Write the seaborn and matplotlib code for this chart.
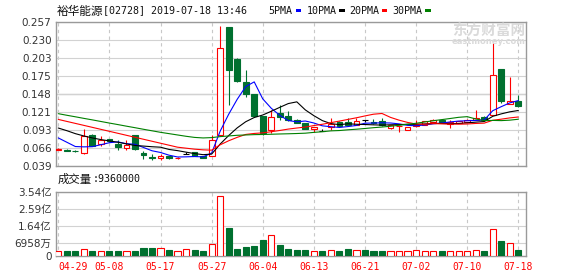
import matplotlib
matplotlib.use("Agg")
import matplotlib.pyplot as plt
from matplotlib.patches import Rectangle
import numpy as np
import pandas as pd
import seaborn as sns

# ---------------- data ----------------
dates = ['04-29', '04-30', '05-02', '05-03', '05-06', '05-07', '05-08', '05-09', '05-10', '05-14',
         '05-15', '05-16', '05-17', '05-20', '05-21', '05-22', '05-23', '05-24', '05-27', '05-28',
         '05-29', '05-30', '05-31', '06-03', '06-04', '06-05', '06-06', '06-10', '06-11', '06-12',
         '06-13', '06-14', '06-17', '06-18', '06-19', '06-20', '06-21', '06-24', '06-25', '06-26',
         '06-27', '06-28', '07-02', '07-03', '07-04', '07-05', '07-08', '07-09', '07-10', '07-11',
         '07-12', '07-15', '07-16', '07-17', '07-18']

opens = [.0632, .0635, .0615, .0580, .0861, .0725, .0790, .0725, .0658, .0851,
         .0585, .0520, .0510, .0530, .0500, .0560, .0595, .0530, .0534, .0861,
         .2484, .2002, .1660, .1480, .1137, .0936, .1188, .1148, .1080, .1037,
         .0946, .0915, .0970, .1047, .1047, .1012, .1087, .1050, .1062, .0962,
         .0985, .0937, .0995, .1012, .1047, .1075, .1022, .1037, .1057, .1087,
         .1125, .1162, .1851, .1328, .1370]
highs = [.0655, .0645, .0635, .0951, .0865, .0846, .0795, .0775, .0786, .0860,
         .0609, .0560, .0560, .0540, .0515, .0590, .0600, .0540, .0860, .2504,
         .2484, .2017, .1840, .1480, .1140, .1238, .1310, .1210, .1090, .1040,
         .0980, .0940, .1113, .1060, .1117, .1113, .1087, .1090, .1113, .1010,
         .0995, .0975, .1087, .1070, .1095, .1080, .1080, .1070, .1090, .1238,
         .1137, .2243, .1860, .1730, .1460]
lows = [.0620, .0610, .0590, .0570, .0690, .0695, .0750, .0625, .0620, .0620,
        .0495, .0480, .0470, .0490, .0495, .0560, .0530, .0500, .0530, .0850,
        .1313, .1650, .1430, .1120, .0860, .0887, .1087, .1070, .1030, .0940,
        .0900, .0915, .0937, .0970, .0986, .1005, .1052, .1020, .0990, .0950,
        .0896, .0930, .0975, .1000, .1040, .1050, .0962, .1030, .1050, .1085,
        .1077, .1150, .1340, .1320, .1280]
closes = [.0638, .0610, .0610, .0841, .0695, .0786, .0760, .0670, .0706, .0646,
          .0549, .0510, .0540, .0500, .0512, .0560, .0535, .0510, .0786, .2168,
          .1840, .1664, .1479, .1137, .0887, .1128, .1128, .1087, .1040, .0946,
          .0977, .0915, .1020, .0986, .1012, .1062, .1087, .1030, .1002, .1001,
          .0995, .0971, .1000, .1062, .1087, .1055, .1057, .1062, .1087, .1113,
          .1085, .1765, .1363, .1373, .1288]

# volume in 亿股
volumes = [.28, .28, .28, .37, .28, .26, .28, .28, .26, .28,
           .44, .44, .42, .33, .26, .37, .33, .30, .65, 3.32,
           1.55, .39, .50, .55, .89, 1.14, .61, .39, .35, .33,
           .28, .28, .33, .28, .39, .33, .33, .28, .28, .26,
           .26, .26, .31, .26, .26, .28, .26, .26, .26, .31,
           .28, 1.47, .83, .70, .33]
vol_up = [1, 0, 0, 1, 0, 1, 0, 0, 1, 0,
          0, 0, 1, 0, 1, 1, 0, 0, 1, 1,
          0, 0, 0, 0, 0, 1, 0, 0, 0, 0,
          1, 0, 1, 0, 0, 1, 0, 0, 0, 1,
          1, 1, 1, 1, 1, 0, 1, 1, 1, 1,
          0, 1, 0, 1, 0]

ma5 = [.0810, .0745, .0680, .0675, .0678, .0708, .0738, .0750, .0723, .0714,
       .0666, .0616, .0590, .0549, .0522, .0524, .0529, .0523, .0581, .0912,
       .1168, .1394, .1587, .1658, .1401, .1259, .1152, .1073, .1054, .1066,
       .1036, .0993, .0980, .0969, .0982, .0999, .1033, .1035, .1039, .1036,
       .1023, .1000, .0994, .1006, .1023, .1035, .1052, .1065, .1070, .1075,
       .1081, .1222, .1283, .1340, .1375]
ma10 = [.0960, .0920, .0875, .0840, .0810, .0785, .0765, .0745, .0720, .0696,
        .0687, .0677, .0670, .0636, .0618, .0595, .0573, .0557, .0565, .0717,
        .0846, .0962, .1055, .1119, .1157, .1213, .1273, .1330, .1356, .1234,
        .1147, .1072, .1027, .1011, .1024, .1017, .1013, .1008, .1004, .1009,
        .1011, .1017, .1015, .1022, .1030, .1029, .1026, .1029, .1038, .1049,
        .1058, .1137, .1174, .1205, .1225]
ma20 = [.1090, .1060, .1030, .1000, .0970, .0940, .0910, .0880, .0850, .0820,
        .0790, .0760, .0730, .0700, .0670, .0655, .0640, .0630, .0625, .0706,
        .0767, .0819, .0863, .0878, .0887, .0904, .0923, .0944, .0960, .0975,
        .0997, .1017, .1041, .1065, .1090, .1115, .1143, .1169, .1180, .1121,
        .1079, .1045, .1021, .1017, .1027, .1023, .1020, .1018, .1021, .1029,
        .1034, .1077, .1094, .1113, .1127]
ma30 = [.1177, .1153, .1130, .1106, .1083, .1059, .1035, .1012, .0988, .0965,
        .0941, .0918, .0895, .0875, .0855, .0835, .0818, .0810, .0815, .0830,
        .0840, .0850, .0855, .0860, .0862, .0866, .0870, .0873, .0877, .0882,
        .0894, .0904, .0917, .0922, .0933, .0942, .0953, .0965, .0975, .0987,
        .1001, .1017, .1032, .1051, .1070, .1087, .1104, .1122, .1132, .1097,
        .1072, .1075, .1072, .1079, .1093]

price_tick_labels = ['0.039', '0.066', '0.093', '0.121', '0.148', '0.175', '0.203', '0.230', '0.257']
vol_ticks = [0, 0.6958, 1.64, 2.59, 3.54]
vol_tick_labels = ['0', '6958万', '1.64亿', '2.59亿', '3.54亿']
label_dates = ['04-29', '05-08', '05-17', '05-27', '06-04', '06-13', '06-21', '07-02', '07-10', '07-18']

title_name = '裕华能源'
title_info = '[02728] 2019-07-18 13:46'
legend_names = ['5PMA', '10PMA', '20PMA', '30PMA']
vol_title = '成交量'
vol_value = ':9360000'

# ---------------- style ----------------
sns.set_theme(style='white')
plt.rcParams['font.family'] = ['DejaVu Sans', 'Noto Sans CJK SC']

RED = '#ff0000'
GREEN = '#00702f'
MA_COLORS = ['#0000ff', '#000000', '#ff0000', '#008000']
GRID = '#d2d2d2'
FRAME = '#9a9a9a'
MONO = ['DejaVu Sans Mono', 'Noto Sans CJK SC']
CJK = ['Noto Sans CJK SC', 'DejaVu Sans']

W, H = 578, 276
fig = plt.figure(figsize=(W / 100, H / 100), dpi=100)
fig.patch.set_facecolor('white')


def fx(px):
    return px / W


def fy(py):
    return 1 - py / H


L, R = 56, 525.7
ax = fig.add_axes([fx(L), fy(165.7), fx(R) - fx(L), fy(21.6) - fy(165.7)])
axv = fig.add_axes([fx(L), fy(256), fx(R) - fx(L), fy(191.7) - fy(256)])

df = pd.DataFrame({'date': dates, 'open': opens, 'high': highs, 'low': lows,
                   'close': closes, 'volume': volumes, 'vol_up': vol_up,
                   'ma5': ma5, 'ma10': ma10, 'ma20': ma20, 'ma30': ma30})
df['x'] = np.arange(len(df))
n = len(df)

# ---------------- price panel ----------------
lo, hi = float(price_tick_labels[0]), float(price_tick_labels[-1])
yt = np.linspace(lo, hi, len(price_tick_labels))
ax.set_ylim(lo, hi)
ax.set_xlim(-0.27, n - 1 + 0.87)

label_idx = [dates.index(d) for d in label_dates]
for a in (ax, axv):
    a.set_xticks(label_idx)
    a.set_facecolor('white')
    a.grid(axis='x', color='#c8c8c8', linestyle=(0, (3, 3)), linewidth=0.8, zorder=0)
    a.grid(axis='y', color=GRID, linestyle='-', linewidth=0.8, zorder=0)
    a.set_axisbelow(True)
    for s in a.spines.values():
        s.set_color(FRAME)
        s.set_linewidth(1.0)
        s.set_visible(True)
    a.tick_params(length=0, pad=3.2, labelsize=7.5, labelcolor='#333333')

ax.set_yticks(yt)
ax.set_yticklabels(price_tick_labels)
ax.set_xticklabels([])
ax.axhline(yt[len(yt) // 2], color='#a8a8a8', linewidth=0.9, zorder=0.5)

# watermark
fig.text(fx(489), fy(30.5), '东方财富网', family=CJK, fontsize=10.5, fontweight='bold',
         color='#dadada', ha='center', va='center', zorder=0)
fig.text(fx(488.5), fy(42), 'eastmoney.com', family=['DejaVu Sans'], fontsize=6.0,
         fontweight='bold', color='#dadada', ha='center', va='center', zorder=0)

up = df['close'] > df['open']
down = df['close'] < df['open']
edge = np.where(up, RED, np.where(down, GREEN, '#000000'))
face = np.where(up, 'white', np.where(down, GREEN, '#000000'))
body_lo = np.minimum(df['open'], df['close'])
body_h = np.abs(df['close'] - df['open'])

ax.vlines(df['x'], df['low'], df['high'], colors=edge, linewidth=0.8, zorder=2)
ax.bar(df['x'], body_h, bottom=body_lo, width=0.68, color=face, edgecolor=edge,
       linewidth=0.8, zorder=3)

for col, c in zip(['ma5', 'ma10', 'ma20', 'ma30'], MA_COLORS):
    sns.lineplot(data=df, x='x', y=col, ax=ax, color=c, linewidth=0.8, zorder=4, legend=False)
ax.set_xlabel('')
ax.set_ylabel('')

# ---------------- volume panel ----------------
axv.set_xlim(ax.get_xlim())
axv.set_ylim(vol_ticks[0], vol_ticks[-1])
axv.set_yticks(vol_ticks)
axv.set_yticklabels(vol_tick_labels)
vface = np.where(df['vol_up'] == 1, 'white', GREEN)
vedge = np.where(df['vol_up'] == 1, RED, GREEN)
axv.bar(df['x'], df['volume'], width=0.72, color=vface, edgecolor=vedge,
        linewidth=0.8, zorder=3)
axv.set_xticklabels(label_dates, family=MONO, fontsize=7.0, color=RED)
axv.tick_params(axis='x', pad=4.0, labelcolor=RED)
first = axv.get_xticklabels()[0]
first.set_horizontalalignment('left')
axv.set_xlabel('')
axv.set_ylabel('')

# ---------------- header texts ----------------
fig.text(fx(56.5), fy(11), title_name, family=CJK, fontsize=8.4, color='#111111',
         ha='left', va='center')
fig.text(fx(103.3), fy(10.5), title_info, family=MONO, fontsize=7.2, color='#111111',
         ha='left', va='center')

leg_text_x = [268.3, 306.7, 349.3, 392.7]
leg_box_x = [295.5, 339.3, 381.7, 425.0]
for name, tx, bx, c in zip(legend_names, leg_text_x, leg_box_x, MA_COLORS):
    fig.text(fx(tx), fy(10.5), name, family=MONO, fontsize=7.2, color='#111111',
             ha='left', va='center')
    fig.add_artist(Rectangle((fx(bx), fy(12.3)), 5.6 / W, 3.0 / H, transform=fig.transFigure,
                             facecolor=c, edgecolor='none'))

fig.text(fx(57.7), fy(179), vol_title, family=CJK, fontsize=8.2, color='#111111',
         ha='left', va='center')
fig.text(fx(92.5), fy(178.5), vol_value, family=MONO, fontsize=7.2, color='#111111',
         ha='left', va='center')

fig.savefig('out.png', dpi=100, facecolor='white')
